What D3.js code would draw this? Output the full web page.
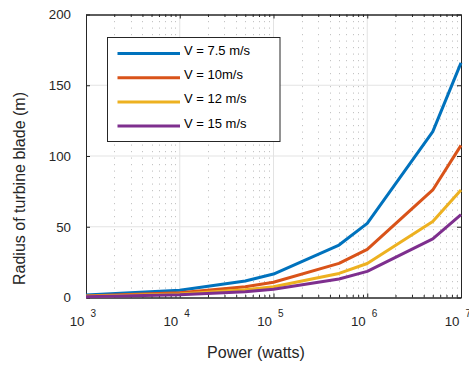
<!DOCTYPE html>
<html>
<head>
<meta charset="utf-8">
<script src="https://cdn.jsdelivr.net/npm/d3@7"></script>
<style>
  body { margin: 0; background: #fff; }
  svg { display: block; font-family: "Liberation Sans", Arial, sans-serif; }
</style>
</head>
<body>
<svg id="chart" width="469" height="367"></svg>
<script>
// Power values (watts)
const power = [1e3, 1e4, 5e4, 1e5, 5e5, 1e6, 5e6, 1e7];
// blade radius (m) per wind speed
const r75 = [1.7, 5.2, 11.7, 16.6, 37.1, 52.4, 117.2, 165.8];
const r10 = [1.1, 3.4, 7.6, 10.8, 24.1, 34.0, 76.0, 107.5];
const r12 = [0.8, 2.4, 5.4, 7.6, 17.0, 24.0, 53.7, 76.0];
const r15 = [0.6, 1.9, 4.1, 5.9, 13.1, 18.5, 41.4, 58.6];
const seriesNames = ['V = 7.5 m/s', 'V = 10m/s', 'V = 12 m/s', 'V = 15 m/s'];
const colors = ['#0072BD', '#D95319', '#EDB120', '#7E2F8E'];
const xMajor = [1e3, 1e4, 1e5, 1e6, 1e7];
const xExp = ['3', '4', '5', '6', '7'];
const yTicks = [0, 50, 100, 150, 200];

const series = [r75, r10, r12, r15];

const svg = d3.select('#chart');
const margin = { left: 86, right: 8, top: 14.5, bottom: 69.5 };
const width = 469 - margin.left - margin.right;
const height = 367 - margin.top - margin.bottom;

const x = d3.scaleLog().domain([1e3, 1e7]).range([0, width]);
const y = d3.scaleLinear().domain([0, 200]).range([height, 0]);

const g = svg.append('g').attr('transform', `translate(${margin.left},${margin.top})`);

// minor x values 2..9 of each decade
const xMinor = [];
for (let e = 3; e < 7; e++) for (let k = 2; k <= 9; k++) xMinor.push(k * Math.pow(10, e));

// minor grid (dotted)
g.append('g').selectAll('line').data(xMinor).join('line')
  .attr('x1', d => Math.round(x(d)) + 0.5).attr('x2', d => Math.round(x(d)) + 0.5)
  .attr('y1', 0).attr('y2', height)
  .attr('stroke', '#c4c4c4').attr('stroke-dasharray', '1.2,5.3');

// major grid
g.append('g').selectAll('line').data(xMajor.slice(1, -1)).join('line')
  .attr('x1', d => x(d)).attr('x2', d => x(d))
  .attr('y1', 0).attr('y2', height)
  .attr('stroke', '#e3e3e3');
g.append('g').selectAll('line').data(yTicks.slice(1, -1)).join('line')
  .attr('x1', 0).attr('x2', width)
  .attr('y1', d => y(d)).attr('y2', d => y(d))
  .attr('stroke', '#e3e3e3');

// axes box with inward ticks
const axisColor = '#262626';
const styleAxis = sel => {
  sel.select('.domain').attr('stroke', axisColor);
  sel.selectAll('.tick line').attr('stroke', axisColor);
  sel.selectAll('.tick text').remove();
};
g.append('g').attr('transform', `translate(0,${height})`)
  .call(d3.axisBottom(x).tickValues(xMajor).tickSize(-4).tickSizeOuter(0)).call(styleAxis);
g.append('g').attr('transform', `translate(0,${height})`)
  .call(d3.axisBottom(x).tickValues(xMinor).tickSize(-2.5).tickSizeOuter(0)).call(styleAxis);
g.append('g')
  .call(d3.axisTop(x).tickValues(xMajor).tickSize(-4).tickSizeOuter(0)).call(styleAxis);
g.append('g')
  .call(d3.axisTop(x).tickValues(xMinor).tickSize(-2.5).tickSizeOuter(0)).call(styleAxis);
g.append('g')
  .call(d3.axisLeft(y).tickValues(yTicks).tickSize(-4).tickSizeOuter(0)).call(styleAxis);
g.append('g').attr('transform', `translate(${width},0)`)
  .call(d3.axisRight(y).tickValues(yTicks).tickSize(-4).tickSizeOuter(0)).call(styleAxis);

// x tick labels 10^n
const xl = g.append('g').attr('fill', axisColor);
xMajor.forEach((v, i) => {
  xl.append('text').attr('x', x(v) - 1.5).attr('y', height + 28.5)
    .attr('text-anchor', 'end').attr('font-size', 13.3).text('10');
  xl.append('text').attr('x', x(v) + 4.5).attr('y', height + 19.5)
    .attr('font-size', 10).text(xExp[i]);
});

// y tick labels
g.append('g').selectAll('text').data(yTicks).join('text')
  .attr('x', -15).attr('y', d => y(d) + 4.8)
  .attr('text-anchor', 'end').attr('font-size', 13.3).attr('fill', axisColor)
  .text(d => d);

// series lines
const line = d3.line().x((d, i) => x(power[i])).y(d => y(d));
g.append('g').selectAll('path').data(series).join('path')
  .attr('d', line).attr('fill', 'none')
  .attr('stroke', (d, i) => colors[i]).attr('stroke-width', 3)
  .attr('stroke-linejoin', 'round');

// axis labels
svg.append('text').attr('x', 256).attr('y', 358).attr('text-anchor', 'middle')
  .attr('font-size', 16).attr('fill', axisColor).text('Power (watts)');
svg.append('text').attr('transform', 'translate(25,188.5) rotate(-90)')
  .attr('text-anchor', 'middle').attr('font-size', 16).attr('fill', axisColor)
  .text('Radius of turbine blade (m)');

// legend
const leg = svg.append('g');
leg.append('rect').attr('x', 107.5).attr('y', 37.5).attr('width', 172.5).attr('height', 104)
  .attr('fill', '#fff').attr('stroke', axisColor);
seriesNames.forEach((name, i) => {
  const ly = 53.5 + i * 24.2;
  leg.append('line').attr('x1', 117.5).attr('x2', 180).attr('y1', ly).attr('y2', ly)
    .attr('stroke', colors[i]).attr('stroke-width', 3);
  leg.append('text').attr('x', 184).attr('y', ly + 1.5).attr('font-size', 13)
    .attr('fill', '#000').text(name);
});
</script>
</body>
</html>
